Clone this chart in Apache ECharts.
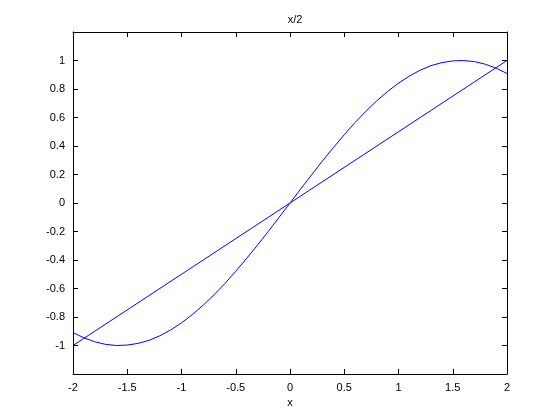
<!DOCTYPE html>
<html>
<head>
<meta charset="utf-8">
<script src="https://cdn.jsdelivr.net/npm/echarts@6/dist/echarts.min.js"></script>
<style>html,body{margin:0;padding:0;background:#fff}#c{width:560px;height:420px}</style>
</head>
<body>
<div id="c"></div>
<script>
// Data
const sinX = [-2.0,-1.9,-1.8,-1.7,-1.6,-1.5,-1.4,-1.3,-1.2,-1.1,-1.0,-0.9,-0.8,-0.7,-0.6,-0.5,-0.4,-0.3,-0.2,-0.1,0,
  0.1,0.2,0.3,0.4,0.5,0.6,0.7,0.8,0.9,1.0,1.1,1.2,1.3,1.4,1.5,1.6,1.7,1.8,1.9,2.0];
const sinY = [-0.909,-0.946,-0.974,-0.992,-1.000,-0.997,-0.985,-0.964,-0.932,-0.891,-0.841,-0.783,-0.717,-0.644,-0.565,-0.479,-0.389,-0.296,-0.199,-0.100,0,
  0.100,0.199,0.296,0.389,0.479,0.565,0.644,0.717,0.783,0.841,0.891,0.932,0.964,0.985,0.997,1.000,0.992,0.974,0.946,0.909];
const lineX = [-2, 2];
const lineY = [-1, 1];
const titleText = 'x/2';
const xLabel = 'x';

const chart = echarts.init(document.getElementById('c'), null, {renderer: 'canvas'});
const font = 'Liberation Sans';
const axisCommon = {
  axisLine: {show: true, onZero: false, lineStyle: {color: '#000', width: 1}},
  axisTick: {show: true, inside: true, length: 5, lineStyle: {color: '#000'}},
  splitLine: {show: false}
};
const fmt = v => {
  const r = Math.round(v * 10) / 10;
  return String(r);
};
chart.setOption({
  animation: false,
  title: {text: titleText, left: 290, textAlign: 'center', top: 9,
    textStyle: {fontSize: 11, fontWeight: 'normal', color: '#000', fontFamily: font}},
  grid: {left: 73, right: 53, top: 32, bottom: 46, containLabel: false},
  xAxis: [
    Object.assign({type: 'value', min: -2, max: 2, interval: 0.5, position: 'bottom',
      name: xLabel, nameLocation: 'middle', nameGap: 23,
      nameTextStyle: {fontSize: 11, color: '#000', fontFamily: font},
      axisLabel: {color: '#000', fontSize: 11, fontFamily: font, margin: 8, formatter: fmt}}, axisCommon),
    Object.assign({type: 'value', min: -2, max: 2, interval: 0.5, position: 'top',
      axisLabel: {show: false}}, axisCommon)
  ],
  yAxis: [
    Object.assign({type: 'value', min: -1.2, max: 1.2, interval: 0.2, position: 'left',
      axisLabel: {color: '#000', fontSize: 11, fontFamily: font, margin: 8, formatter: fmt,
        showMinLabel: false, showMaxLabel: false}}, axisCommon),
    Object.assign({type: 'value', min: -1.2, max: 1.2, interval: 0.2, position: 'right',
      axisLabel: {show: false}}, axisCommon)
  ],
  series: [
    {type: 'line', data: sinX.map((x, i) => [x, sinY[i]]), showSymbol: false, symbol: 'none',
      lineStyle: {color: '#0000ff', width: 1}, smooth: false},
    {type: 'line', data: lineX.map((x, i) => [x, lineY[i]]), showSymbol: false, symbol: 'none',
      lineStyle: {color: '#0000ff', width: 1}}
  ]
});
</script>
</body>
</html>
